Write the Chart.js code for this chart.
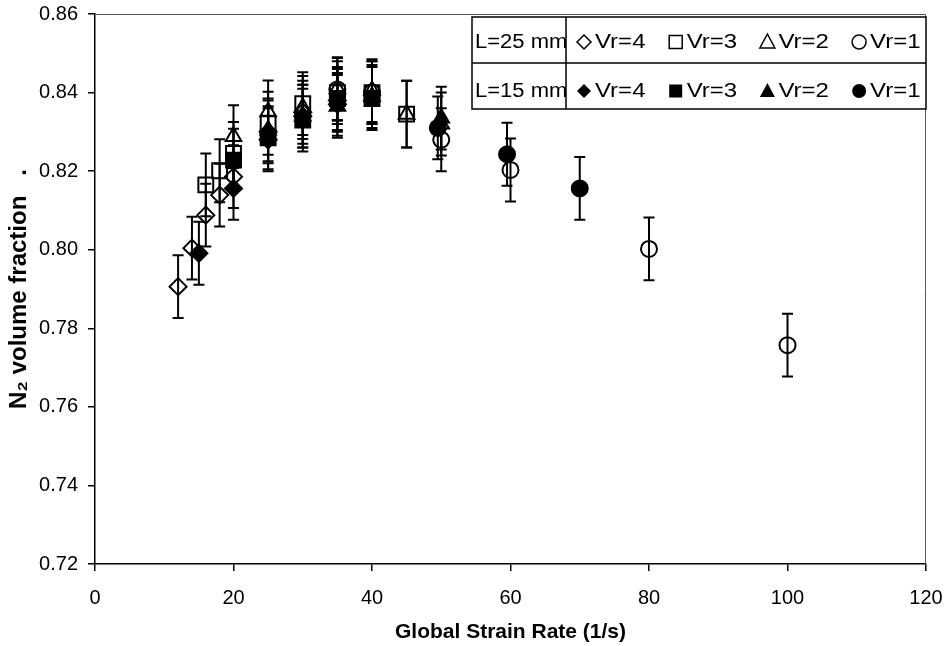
<!DOCTYPE html>
<html>
<head>
<meta charset="utf-8">
<title>N2 volume fraction vs global strain rate</title>
<script src="https://cdn.jsdelivr.net/npm/chart.js@4.4.1/dist/chart.umd.min.js"></script>
<style>
  html, body { margin: 0; padding: 0; background: #fff; }
  #wrap { width: 948px; height: 646px; }
</style>
</head>
<body>
<div id="wrap"><canvas id="chart"></canvas></div>
<script>
// ---- data ----
// L=25 mm, open markers
const x25v4 = [12, 14, 16, 18, 20, 25, 30, 35];
const y25v4 = [0.7906, 0.8004, 0.8088, 0.8139, 0.8186, 0.8300, 0.8350, 0.8380];
const e25v4 = [0.008, 0.008, 0.008, 0.008, 0.008, 0.008, 0.008, 0.008];

const x25v3 = [16, 18, 20, 25, 30, 35, 40, 45];
const y25v3 = [0.8165, 0.8201, 0.8245, 0.8322, 0.8372, 0.8400, 0.8400, 0.8345];
const e25v3 = [0.008, 0.008, 0.008, 0.008, 0.008, 0.008, 0.008, 0.0085];

const x25v2 = [20, 25, 30, 35, 40, 45, 50];
const y25v2 = [0.8288, 0.8351, 0.8362, 0.8410, 0.8405, 0.8345, 0.8320];
const e25v2 = [0.008, 0.008, 0.008, 0.008, 0.008, 0.0085, 0.008];

const x25v1 = [35, 40, 50, 60, 80, 100];
const y25v1 = [0.8408, 0.8400, 0.8280, 0.8203, 0.8002, 0.7757];
const e25v1 = [0.008, 0.008, 0.008, 0.008, 0.008, 0.008];

// L=15 mm, filled markers
const x15v4 = [15, 20, 25, 30, 35];
const y15v4 = [0.7991, 0.8156, 0.8280, 0.8340, 0.8370];
const e15v4 = [0.008, 0.008, 0.008, 0.008, 0.008];

const x15v3 = [20, 25, 30, 35, 40];
const y15v3 = [0.8228, 0.8285, 0.8330, 0.8385, 0.8385];
const e15v3 = [0.008, 0.008, 0.008, 0.008, 0.008];

const x15v2 = [25, 30, 35, 40, 50];
const y15v2 = [0.8305, 0.8340, 0.8365, 0.8390, 0.8335];
const e15v2 = [0.008, 0.008, 0.008, 0.008, 0.008];

const x15v1 = [49.5, 59.5, 70];
const y15v1 = [0.8310, 0.8243, 0.8156];
const e15v1 = [0.008, 0.008, 0.008];

const groupLabels = ["L=25 mm", "L=15 mm"];
const vrLabels = ["Vr=4", "Vr=3", "Vr=2", "Vr=1"];
const xTitle = "Global Strain Rate (1/s)";
const yTitle = "N\u2082 volume fraction   .";

// ---- helpers ----
const FONT = "'Liberation Sans', Arial, Helvetica, sans-serif";
const shapes = ["rectRot", "rect", "triangle", "circle"];
const radii = { rectRot: 8.5, rect: 10.5, triangle: 9, circle: 8 };

function pts(xs, ys, es) {
  return xs.map((x, i) => ({ x, y: ys[i], e: es[i] }));
}

function series(label, group, shape, filled, data) {
  return {
    label, group, data,
    pointStyle: shape,
    pointRadius: radii[shape],
    pointBorderWidth: 2,
    pointBorderColor: "#000",
    pointBackgroundColor: filled ? "#000" : "rgba(0,0,0,0)",
    showLine: false,
    filled
  };
}

const datasets = [
  series(vrLabels[0], 0, shapes[0], false, pts(x25v4, y25v4, e25v4)),
  series(vrLabels[1], 0, shapes[1], false, pts(x25v3, y25v3, e25v3)),
  series(vrLabels[2], 0, shapes[2], false, pts(x25v2, y25v2, e25v2)),
  series(vrLabels[3], 0, shapes[3], false, pts(x25v1, y25v1, e25v1)),
  series(vrLabels[0], 1, shapes[0], true, pts(x15v4, y15v4, e15v4)),
  series(vrLabels[1], 1, shapes[1], true, pts(x15v3, y15v3, e15v3)),
  series(vrLabels[2], 1, shapes[2], true, pts(x15v2, y15v2, e15v2)),
  series(vrLabels[3], 1, shapes[3], true, pts(x15v1, y15v1, e15v1))
];

// error bars, placed through the chart scales
const errorBars = {
  id: "errorBars",
  beforeDatasetsDraw(chart) {
    const { ctx, scales: { x, y } } = chart;
    ctx.save();
    ctx.strokeStyle = "#000";
    ctx.lineWidth = 2;
    chart.data.datasets.forEach((ds) => {
      ds.data.forEach((p) => {
        const px = x.getPixelForValue(p.x);
        const top = y.getPixelForValue(p.y + p.e);
        const bot = y.getPixelForValue(p.y - p.e);
        ctx.beginPath();
        ctx.moveTo(px, top); ctx.lineTo(px, bot);
        ctx.moveTo(px - 5.5, top); ctx.lineTo(px + 5.5, top);
        ctx.moveTo(px - 5.5, bot); ctx.lineTo(px + 5.5, bot);
        ctx.stroke();
      });
    });
    ctx.restore();
  }
};

// thin top / right frame
const frame = {
  id: "frame",
  afterDraw(chart) {
    const { ctx, chartArea: a } = chart;
    ctx.save();
    ctx.strokeStyle = "#555";
    ctx.lineWidth = 1;
    ctx.beginPath();
    ctx.moveTo(a.left, a.top + 0.5);
    ctx.lineTo(a.right - 0.5, a.top + 0.5);
    ctx.lineTo(a.right - 0.5, a.bottom);
    ctx.stroke();
    ctx.restore();
  }
};

function marker(ctx, shape, cx, cy, filled) {
  ctx.beginPath();
  if (shape === "rectRot") {
    ctx.moveTo(cx, cy - 7); ctx.lineTo(cx + 7, cy); ctx.lineTo(cx, cy + 7); ctx.lineTo(cx - 7, cy);
    ctx.closePath();
  } else if (shape === "rect") {
    ctx.rect(cx - 6.5, cy - 6.5, 13, 13);
  } else if (shape === "triangle") {
    ctx.moveTo(cx, cy - 8); ctx.lineTo(cx + 7.5, cy + 6); ctx.lineTo(cx - 7.5, cy + 6);
    ctx.closePath();
  } else {
    ctx.arc(cx, cy, 7, 0, Math.PI * 2);
  }
  if (filled) { ctx.fill(); } else { ctx.stroke(); }
}

// table-like legend box in the top right corner
const legendBox = {
  id: "legendBox",
  afterDraw(chart) {
    const { ctx, chartArea: a } = chart;
    const left = 472, right = a.right, top = 17, mid = 63, bottom = 109, split = 566;
    const rowY = [42, 91];
    ctx.save();
    ctx.fillStyle = "#fff";
    ctx.fillRect(left, top, right - left, bottom - top);
    ctx.strokeStyle = "#000";
    ctx.lineWidth = 1.5;
    ctx.strokeRect(left, top, right - left, bottom - top);
    ctx.beginPath();
    ctx.moveTo(left, mid); ctx.lineTo(right, mid);
    ctx.moveTo(split, top); ctx.lineTo(split, bottom);
    ctx.stroke();

    ctx.fillStyle = "#000";
    ctx.textBaseline = "middle";
    ctx.textAlign = "left";
    ctx.font = "20px " + FONT;
    groupLabels.forEach((g, r) => {
      ctx.save();
      ctx.translate(left + 3, rowY[r]);
      ctx.scale(1.1, 1);
      ctx.fillText(g, 0, 0);
      ctx.restore();
    });
    ctx.lineWidth = 1.5;
    chart.data.datasets.forEach((ds, i) => {
      const col = i % 4;
      const cx = 584 + col * 91.7;
      const cy = rowY[ds.group];
      marker(ctx, ds.pointStyle, cx, cy, ds.filled);
      ctx.save();
      ctx.translate(cx + 11, cy);
      ctx.scale(1.2, 1);
      ctx.fillText(ds.label, 0, 0);
      ctx.restore();
    });
    ctx.restore();
  }
};

new Chart(document.getElementById("chart"), {
  type: "scatter",
  data: { datasets },
  options: {
    responsive: true,
    maintainAspectRatio: false,
    animation: false,
    layout: { padding: { left: 0, right: 22, top: 14, bottom: 0 } },
    plugins: { legend: { display: false }, tooltip: { enabled: false } },
    scales: {
      x: {
        type: "linear", min: 0, max: 120,
        ticks: { stepSize: 20, color: "#000", padding: 15, font: { family: FONT, size: 20 } },
        grid: { drawOnChartArea: false, tickLength: 7, color: "#000", lineWidth: 1.5 },
        border: { color: "#000", width: 1.5 },
        title: { display: true, text: xTitle, color: "#000", padding: { top: 0, bottom: 1 },
                 font: { family: FONT, size: 21, weight: "bold" } },
        afterFit(s) { s.height = 82; s.paddingLeft = 0; s.paddingRight = 0; }
      },
      y: {
        type: "linear", min: 0.72, max: 0.86,
        ticks: { stepSize: 0.02, color: "#000", padding: 10, font: { family: FONT, size: 20 },
                 callback: (v) => v.toFixed(2) },
        grid: { drawOnChartArea: false, tickLength: 7, color: "#000", lineWidth: 1.5 },
        border: { color: "#000", width: 1.5 },
        title: { display: true, text: yTitle, color: "#000", padding: { top: 5, bottom: 0 },
                 font: { family: FONT, size: 24, weight: "bold" } },
        afterFit(s) { s.width = 95; s.paddingTop = 0; s.paddingBottom = 0; }
      }
    }
  },
  plugins: [errorBars, frame, legendBox]
});
</script>
</body>
</html>
